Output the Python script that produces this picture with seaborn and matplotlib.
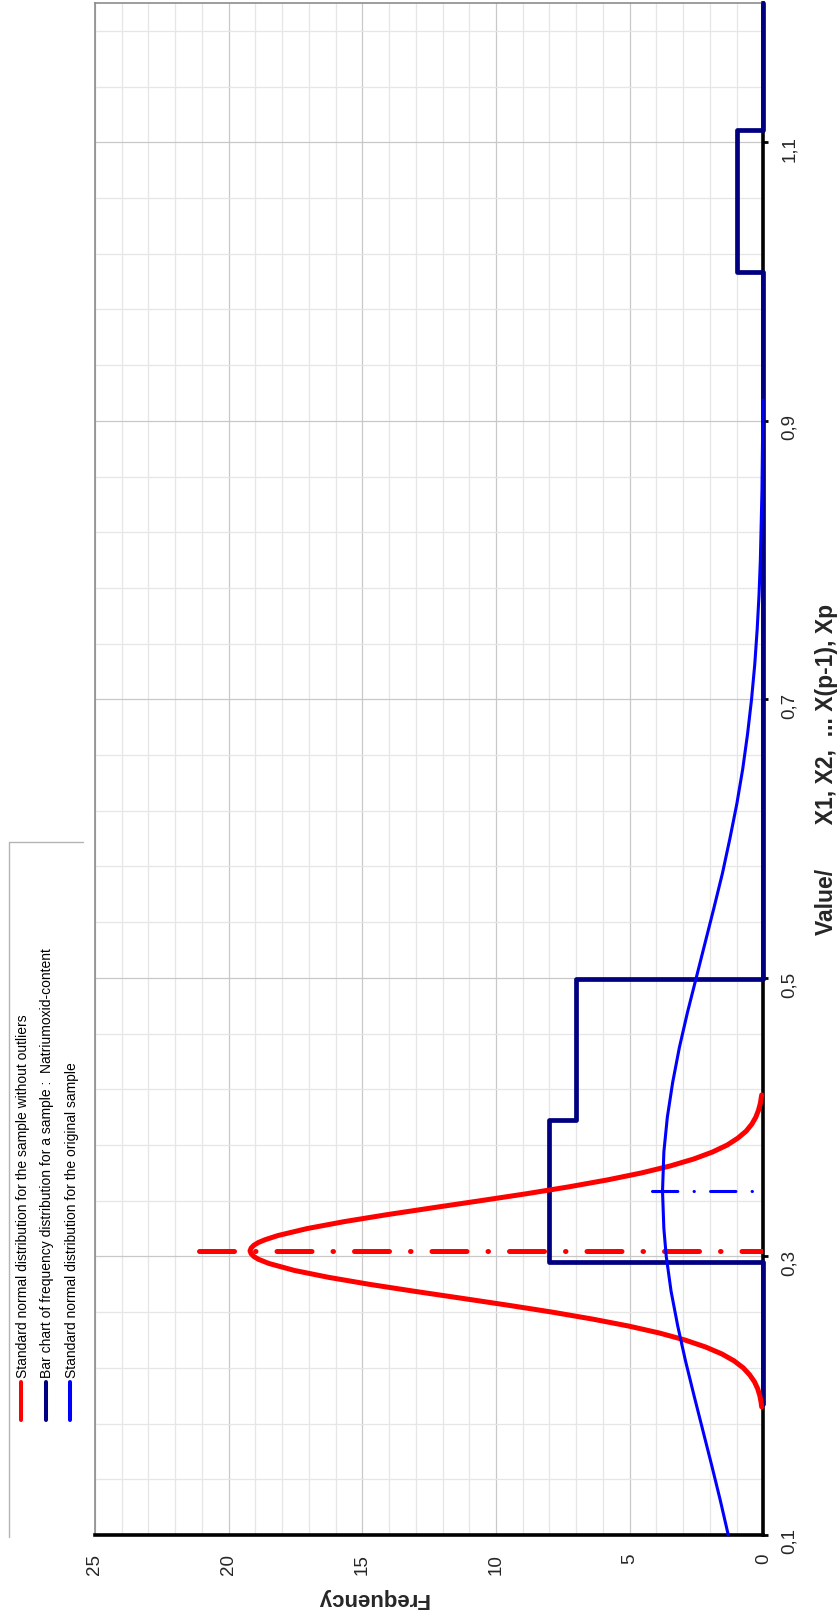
import numpy as np
import pandas as pd
import seaborn as sns
import matplotlib.pyplot as plt
from matplotlib.ticker import FixedLocator, MultipleLocator, FuncFormatter

sns.set_style("white")
plt.rcParams['font.family'] = ['Liberation Sans', 'DejaVu Sans']

# normal curve for the sample without outliers (value, frequency)
red_value = [0.192, 0.195, 0.20, 0.205, 0.21, 0.215, 0.22, 0.225, 0.23, 0.235, 0.24, 0.245,
             0.25, 0.255, 0.26, 0.265, 0.27, 0.275, 0.28, 0.285, 0.29, 0.295, 0.298, 0.30,
             0.302, 0.304, 0.306, 0.308, 0.31, 0.312, 0.315, 0.32, 0.325, 0.33, 0.335, 0.34,
             0.345, 0.35, 0.355, 0.36, 0.365, 0.37, 0.375, 0.38, 0.385, 0.39, 0.395, 0.40,
             0.405, 0.41, 0.416]
red_freq = [0.06, 0.08, 0.13, 0.21, 0.33, 0.51, 0.75, 1.09, 1.55, 2.16, 2.93, 3.88,
            5.03, 6.38, 7.89, 9.55, 11.29, 13.05, 14.74, 16.26, 17.55, 18.50, 18.89, 19.06,
            19.16, 19.20, 19.16, 19.06, 18.89, 18.64, 18.16, 17.07, 15.68, 14.08, 12.35, 10.59,
            8.87, 7.27, 5.82, 4.55, 3.48, 2.60, 1.90, 1.35, 0.95, 0.64, 0.43, 0.28,
            0.18, 0.11, 0.06]
red_mean = 0.3036
red_mean_len = 21.1

# normal curve for the original sample
blue_value = [0.10, 0.125, 0.15, 0.175, 0.20, 0.225, 0.25, 0.275, 0.30, 0.32, 0.347, 0.375,
              0.40, 0.425, 0.45, 0.475, 0.50, 0.525, 0.55, 0.575, 0.60, 0.625, 0.65, 0.675,
              0.70, 0.725, 0.75, 0.775, 0.80, 0.85, 0.90, 0.915]
blue_freq = [1.31, 1.61, 1.93, 2.26, 2.59, 2.91, 3.20, 3.45, 3.63, 3.72, 3.77, 3.72,
             3.59, 3.39, 3.14, 2.84, 2.51, 2.18, 1.85, 1.53, 1.25, 0.99, 0.77, 0.59,
             0.44, 0.32, 0.23, 0.16, 0.11, 0.05, 0.02, 0.01]
blue_mean = 0.3467
blue_mean_len = 4.15

# frequency bars
bin_edges = [0.194, 0.296, 0.398, 0.499, 0.601, 0.702, 0.804, 0.906, 1.007, 1.109, 1.2]
bin_counts = [0, 8, 7, 0, 0, 0, 0, 0, 1, 0]

value_ticks = [0.1, 0.3, 0.5, 0.7, 0.9, 1.1]
freq_ticks = [0, 5, 10, 15, 20, 25]

legend_labels = [
    "Standard normal distribution for the sample without outliers",
    "Bar chart of frequency distribution for a sample :  Natriumoxid-content",
    "Standard normal distribution for the original sample",
]
legend_colors = ["#ff0000", "#000080", "#0000ff"]

W, H = 838, 1623
fig = plt.figure(figsize=(W / 100, H / 100), dpi=100)
ax = fig.add_axes([95 / W, 88 / H, (763.3 - 95) / W, 1532 / H])

# step outline of the bars
step_x, step_y = [0], [bin_edges[0]]
for c, lo, hi in zip(bin_counts, bin_edges[:-1], bin_edges[1:]):
    step_x += [c, c]
    step_y += [lo, hi]
bars = pd.DataFrame({'Frequency': step_x, 'Value': step_y})
sns.lineplot(data=bars, x='Frequency', y='Value', sort=False, estimator=None,
             color='#000080', lw=3.4, ax=ax, zorder=3, clip_on=False)

red = pd.DataFrame({'Frequency': red_freq, 'Value': red_value})
sns.lineplot(data=red, x='Frequency', y='Value', sort=False, estimator=None,
             color='#ff0000', lw=3.6, ax=ax, zorder=4, clip_on=False,
             solid_joinstyle='round', solid_capstyle='round')

blue = pd.DataFrame({'Frequency': blue_freq, 'Value': blue_value})
sns.lineplot(data=blue, x='Frequency', y='Value', sort=False, estimator=None,
             color='#0000ff', lw=2.2, ax=ax, zorder=5, clip_on=False,
             solid_joinstyle='round')

ax.plot([red_mean_len, 0], [red_mean, red_mean], color='#ff0000', lw=3.6,
        dashes=(7, 4.2, 0.1, 4.2), dash_capstyle='round', zorder=4.5)
ax.plot([blue_mean_len, 0], [blue_mean, blue_mean], color='#0000ff', lw=2.2,
        dashes=(8.3, 5.3, 0.1, 5.3), dash_capstyle='round', zorder=5)

ax.set_xlim(25, 0)
ax.set_ylim(0.1, 1.2)

ax.xaxis.set_major_locator(FixedLocator(freq_ticks))
ax.xaxis.set_minor_locator(MultipleLocator(1))
ax.yaxis.set_major_locator(FixedLocator(value_ticks))
ax.yaxis.set_minor_locator(FixedLocator(np.arange(0.1, 1.201, 0.04)))
ax.yaxis.set_major_formatter(FuncFormatter(lambda v, p: f"{v:.1f}".replace('.', ',')))
ax.xaxis.set_major_formatter(FuncFormatter(lambda v, p: f"{v:.0f}"))

ax.grid(which='major', color='#c8c8c8', lw=0.9)
ax.grid(which='minor', color='#e6e6e6', lw=0.9)
ax.set_axisbelow(True)

ax.yaxis.tick_right()
ax.tick_params(axis='both', which='major', direction='out', length=3.6, width=2,
               color='black', labelsize=13.5, labelrotation=90)
ax.tick_params(axis='x', which='major', pad=10)
ax.tick_params(axis='y', which='major', pad=9)
ax.tick_params(axis='both', which='minor', length=0)

for side in ['bottom', 'right']:
    ax.spines[side].set_color('black')
    ax.spines[side].set_linewidth(2.6)
for side in ['left', 'top']:
    ax.spines[side].set_color('#8c8c8c')
    ax.spines[side].set_linewidth(1.2)

ax.set_xlabel('Frequency', rotation=180, fontsize=16, fontweight='bold', va='center')
ax.xaxis.set_label_coords((372 - 95) / 668.3, (1535 - 1598) / 1532)
ax.yaxis.set_label_position('right')
ax.set_ylabel('Value/       X1, X2,  ... X(p-1), Xp', rotation=90, fontsize=16.5,
              fontweight='bold', va='center', ha='center')
ax.yaxis.set_label_coords((826 - 95) / 668.3, 0.5)

# legend drawn in pixel coordinates, rotated like the chart
over = fig.add_axes([0, 0, 1, 1], facecolor='none')
over.set_xlim(0, W)
over.set_ylim(H, 0)
over.axis('off')
over.plot([9, 9, 83], [1537, 842, 842], color='#b4b4b4', lw=1)
for i, (label, color) in enumerate(zip(legend_labels, legend_colors)):
    lx = 21 + i * 24.7
    over.plot([lx, lx], [1382, 1420], color=color, lw=2.9, solid_capstyle='round')
    over.text(lx + 5.7, 1378, label, rotation=90, rotation_mode='anchor',
              ha='left', va='baseline', fontsize=10, color='black')

fig.savefig('out.png', dpi=100)
